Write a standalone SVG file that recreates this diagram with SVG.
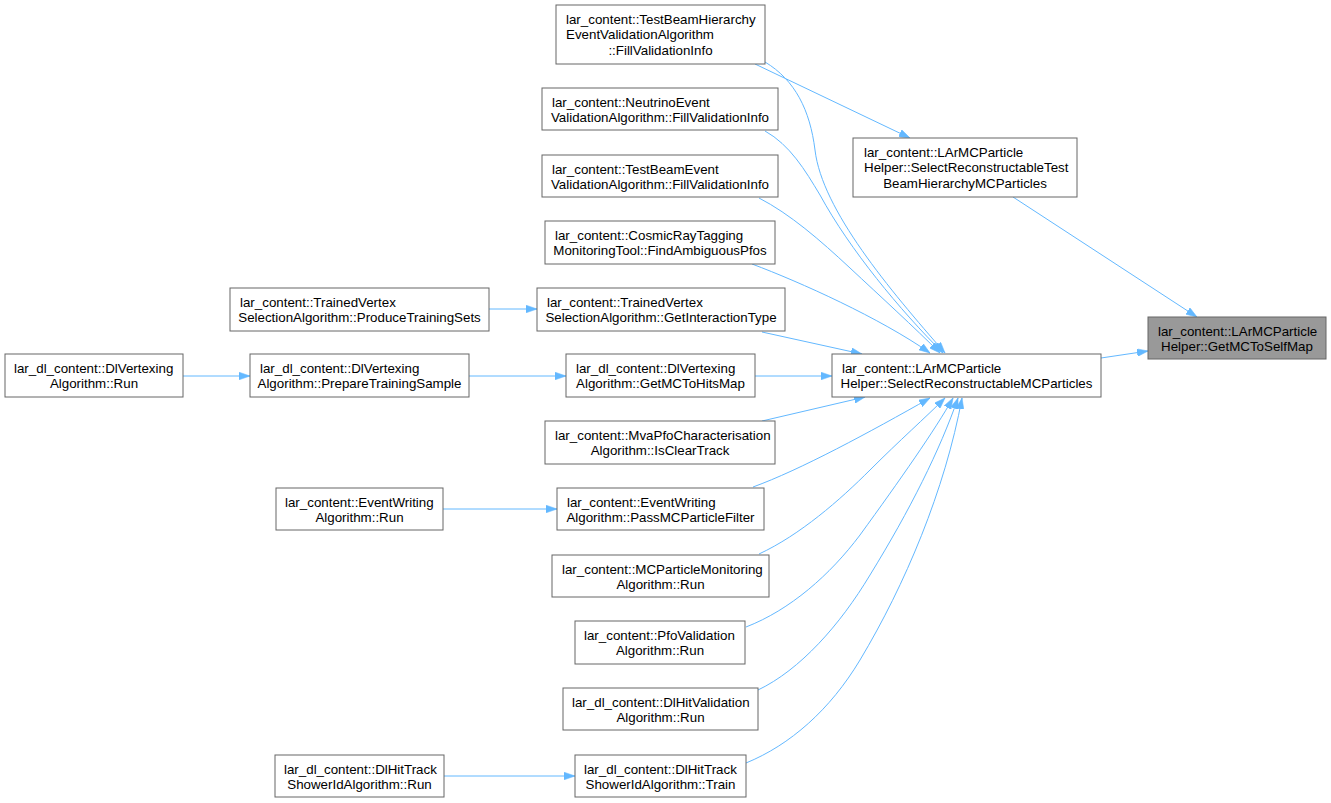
<svg xmlns="http://www.w3.org/2000/svg" width="1331" height="803" viewBox="0 0 1331 803">
<style>
.n rect{fill:#ffffff;stroke:#666666;stroke-width:1}
.root rect{fill:#999999;stroke:#666666;stroke-width:1}
text{font-family:"Liberation Sans",Arial,Helvetica,sans-serif;font-size:13.33px;fill:#000000}
.m{text-anchor:middle}
.s{text-anchor:start}
.e path{fill:none;stroke:#63b8ff;stroke-width:1;marker-end:url(#ah)}
</style>
<defs>
<marker id="ah" markerUnits="userSpaceOnUse" markerWidth="11" markerHeight="8" refX="10" refY="3.5" orient="auto" viewBox="0 0 10 7">
<path d="M0,0 L10,3.5 L0,7 z" fill="#63b8ff" stroke="#63b8ff" stroke-width="0.5"/>
</marker>
</defs>
<rect width="1331" height="803" fill="#ffffff"/>
<g id="connectors" class="e">
<path d="M489,309 L537,309"/>
<path d="M183,376 L250,376"/>
<path d="M469,376 L566,376"/>
<path d="M443,509 L557,509"/>
<path d="M444,776 L575,776"/>
<path d="M755,376 L832,376"/>
<path d="M1101,358 L1148,351"/>
<path d="M1013,197 L1197,317"/>
<path d="M755,64 L910,138"/>
<path d="M765,62 C795,80 810,110 815,150 C822,210 890,290 945,353"/>
<path d="M765,131 C790,145 805,170 820,195 C850,250 900,310 943,353"/>
<path d="M759,198 C790,214 820,240 850,268 C880,296 915,328 940,353"/>
<path d="M752,264 C800,282 880,318 930,353"/>
<path d="M762,332 L862,354"/>
<path d="M762,421 L865,397"/>
<path d="M753,487 C800,470 870,432 930,398"/>
<path d="M759,554 C800,535 840,500 870,470 C900,440 925,418 945,398"/>
<path d="M746,627 C790,610 830,575 860,535 C900,480 935,430 953,398"/>
<path d="M758,690 C800,670 840,625 870,575 C910,510 940,450 958,398"/>
<path d="M746,763 C790,745 830,710 860,660 C905,585 945,490 962,398"/>
</g>
<g id="nodeA" class="n"><rect x="556" y="5" width="209" height="59"/>
<text class="s" x="566" y="23.5">lar_content::TestBeamHierarchy</text>
<text class="s" x="566" y="39">EventValidationAlgorithm</text>
<text class="m" x="660.5" y="54.5">::FillValidationInfo</text></g>
<g id="nodeB" class="n"><rect x="542" y="88" width="236" height="42"/>
<text class="s" x="552" y="106.5">lar_content::NeutrinoEvent</text>
<text class="m" x="660" y="122">ValidationAlgorithm::FillValidationInfo</text></g>
<g id="nodeC" class="n"><rect x="542" y="155" width="236" height="42"/>
<text class="s" x="552" y="173.5">lar_content::TestBeamEvent</text>
<text class="m" x="660" y="189">ValidationAlgorithm::FillValidationInfo</text></g>
<g id="nodeD" class="n"><rect x="545" y="221" width="230" height="43"/>
<text class="s" x="555" y="239.5">lar_content::CosmicRayTagging</text>
<text class="m" x="660" y="255">MonitoringTool::FindAmbiguousPfos</text></g>
<g id="nodeE" class="n"><rect x="537" y="288" width="248" height="43"/>
<text class="s" x="547" y="306.5">lar_content::TrainedVertex</text>
<text class="m" x="661" y="322">SelectionAlgorithm::GetInteractionType</text></g>
<g id="nodeF" class="n"><rect x="566" y="354" width="189" height="43"/>
<text class="s" x="576" y="372.5">lar_dl_content::DlVertexing</text>
<text class="m" x="660.5" y="388">Algorithm::GetMCToHitsMap</text></g>
<g id="nodeG" class="n"><rect x="545" y="421" width="230" height="43"/>
<text class="s" x="555" y="439.5">lar_content::MvaPfoCharacterisation</text>
<text class="m" x="660" y="455">Algorithm::IsClearTrack</text></g>
<g id="nodeH" class="n"><rect x="557" y="488" width="207" height="42"/>
<text class="s" x="567" y="506.5">lar_content::EventWriting</text>
<text class="m" x="660.5" y="522">Algorithm::PassMCParticleFilter</text></g>
<g id="nodeI" class="n"><rect x="552" y="555" width="217" height="42"/>
<text class="s" x="562" y="573.5">lar_content::MCParticleMonitoring</text>
<text class="m" x="660.5" y="589">Algorithm::Run</text></g>
<g id="nodeJ" class="n"><rect x="575" y="621" width="170" height="43"/>
<text class="s" x="584" y="639.5">lar_content::PfoValidation</text>
<text class="m" x="660" y="655">Algorithm::Run</text></g>
<g id="nodeK" class="n"><rect x="563" y="688" width="195" height="42"/>
<text class="s" x="572" y="706.5">lar_dl_content::DlHitValidation</text>
<text class="m" x="660.5" y="722">Algorithm::Run</text></g>
<g id="nodeL" class="n"><rect x="575" y="755" width="171" height="42"/>
<text class="s" x="584" y="773.5">lar_dl_content::DlHitTrack</text>
<text class="m" x="660.5" y="789">ShowerIdAlgorithm::Train</text></g>
<g id="nodeM" class="n"><rect x="230" y="288" width="259" height="43"/>
<text class="s" x="240" y="306.5">lar_content::TrainedVertex</text>
<text class="m" x="359.5" y="322">SelectionAlgorithm::ProduceTrainingSets</text></g>
<g id="nodeN" class="n"><rect x="250" y="354" width="219" height="43"/>
<text class="s" x="260" y="372.5">lar_dl_content::DlVertexing</text>
<text class="m" x="359.5" y="388">Algorithm::PrepareTrainingSample</text></g>
<g id="nodeO" class="n"><rect x="5" y="354" width="178" height="43"/>
<text class="s" x="14" y="372.5">lar_dl_content::DlVertexing</text>
<text class="m" x="94" y="388">Algorithm::Run</text></g>
<g id="nodeP" class="n"><rect x="276" y="488" width="167" height="42"/>
<text class="s" x="285" y="506.5">lar_content::EventWriting</text>
<text class="m" x="359.5" y="522">Algorithm::Run</text></g>
<g id="nodeQ" class="n"><rect x="275" y="755" width="169" height="42"/>
<text class="s" x="284" y="773.5">lar_dl_content::DlHitTrack</text>
<text class="m" x="359.5" y="789">ShowerIdAlgorithm::Run</text></g>
<g id="nodeR" class="n"><rect x="853" y="138" width="224" height="59"/>
<text class="s" x="864" y="156.5">lar_content::LArMCParticle</text>
<text class="s" x="864" y="172">Helper::SelectReconstructableTest</text>
<text class="m" x="965" y="187.5">BeamHierarchyMCParticles</text></g>
<g id="nodeS" class="n"><rect x="832" y="354" width="269" height="43"/>
<text class="s" x="842" y="372.5">lar_content::LArMCParticle</text>
<text class="m" x="966.5" y="388">Helper::SelectReconstructableMCParticles</text></g>
<g id="nodeT" class="root"><rect x="1148" y="317" width="178" height="42"/>
<text class="s" x="1158" y="335.5">lar_content::LArMCParticle</text>
<text class="m" x="1237" y="351">Helper::GetMCToSelfMap</text></g>
</svg>
